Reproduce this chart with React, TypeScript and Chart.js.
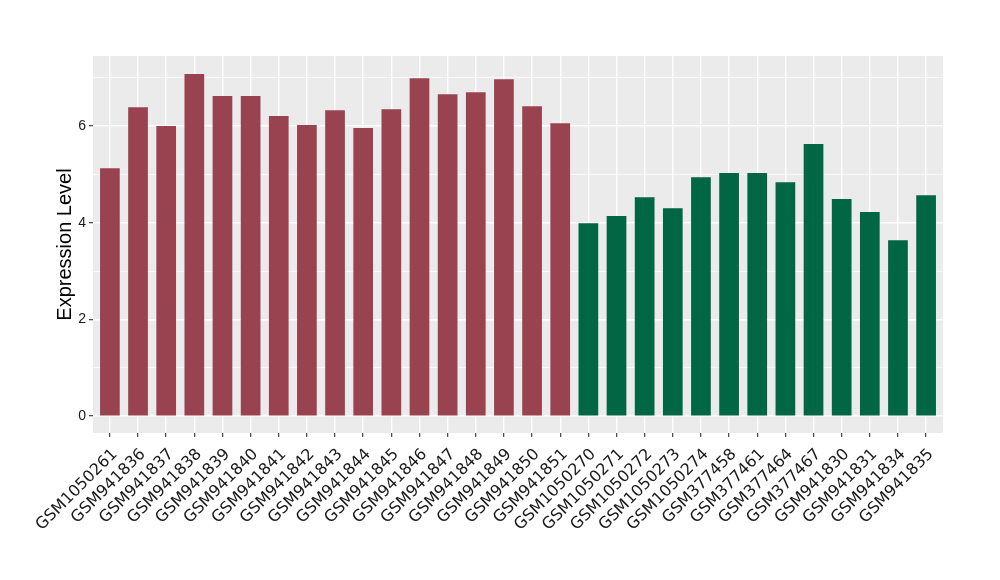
import React, { useEffect, useRef } from "react";
import { Chart, registerables } from "chart.js";

Chart.register(...registerables);

const categories: string[] = [
  "GSM1050261", "GSM941836", "GSM941837", "GSM941838", "GSM941839", "GSM941840",
  "GSM941841", "GSM941842", "GSM941843", "GSM941844", "GSM941845", "GSM941846",
  "GSM941847", "GSM941848", "GSM941849", "GSM941850", "GSM941851",
  "GSM1050270", "GSM1050271", "GSM1050272", "GSM1050273", "GSM1050274",
  "GSM377458", "GSM377461", "GSM377464", "GSM377467",
  "GSM941830", "GSM941831", "GSM941834", "GSM941835",
];

const values: number[] = [
  5.13, 6.39, 6.0, 7.08, 6.62, 6.62, 6.21, 6.02, 6.33, 5.96, 6.35, 6.99,
  6.66, 6.7, 6.97, 6.41, 6.06,
  3.99, 4.14, 4.53, 4.3, 4.94,
  5.03, 5.03, 4.84, 5.63,
  4.49, 4.22, 3.64, 4.57,
];

const groups: number[] = [
  0, 0, 0, 0, 0, 0, 0, 0, 0, 0, 0, 0, 0, 0, 0, 0, 0,
  1, 1, 1, 1, 1, 1, 1, 1, 1, 1, 1, 1, 1,
];

const groupColors: string[] = ["#9A4350", "#006644"];
const yTickValues: number[] = [0, 1, 2, 3, 4, 5, 6, 7];
const yTitle = "Expression Level";

const panelBg = {
  id: "panelBg",
  beforeDraw(chart: any) {
    const { ctx, chartArea } = chart;
    ctx.save();
    ctx.fillStyle = "#EBEBEB";
    ctx.fillRect(chartArea.left, chartArea.top, chartArea.right - chartArea.left, chartArea.bottom - chartArea.top);
    ctx.restore();
  },
};

export default function App() {
  const ref = useRef<HTMLCanvasElement | null>(null);

  useEffect(() => {
    if (!ref.current) return;
    const chart = new Chart(ref.current, {
      type: "bar",
      data: {
        datasets: [
          {
            data: values.map((v, i) => ({ x: i, y: v })),
            backgroundColor: groups.map((g) => groupColors[g]),
            barPercentage: 0.7,
            categoryPercentage: 1,
            borderWidth: 0,
          },
        ],
      },
      options: {
        animation: false,
        responsive: false,
        devicePixelRatio: 1,
        layout: { padding: { top: 56, right: 57, left: 49, bottom: 0 } },
        plugins: { legend: { display: false }, tooltip: { enabled: false } },
        scales: {
          x: {
            type: "linear",
            min: -0.6,
            max: 29.6,
            offset: false,
            afterBuildTicks: (axis: any) => {
              axis.ticks = categories.map((_, i) => ({ value: i }));
            },
            afterFit: (axis: any) => {
              axis.height = 147;
            },
            border: { display: false },
            grid: {
              offset: false,
              color: "#FFFFFF",
              lineWidth: 1.4,
              drawTicks: true,
              tickLength: 4,
              tickColor: "#333333",
              tickWidth: 1.1,
            },
            ticks: {
              autoSkip: false,
              maxRotation: 45,
              minRotation: 45,
              padding: 8,
              labelOffset: 5,
              color: "#1A1A1A",
              font: { family: "'DejaVu Sans'", size: 16 },
              callback: (v: any) => categories[Math.round(Number(v))] ?? "",
            },
          },
          y: {
            min: -0.35,
            max: 7.45,
            afterBuildTicks: (axis: any) => {
              axis.ticks = yTickValues.map((v) => ({ value: v }));
            },
            afterFit: (axis: any) => {
              axis.width = 44;
            },
            border: { display: false },
            grid: {
              color: "#FFFFFF",
              lineWidth: (ctx: any) => (ctx.tick && ctx.tick.value % 2 === 0 ? 1.4 : 0.7),
              drawTicks: true,
              tickLength: 4,
              tickColor: (ctx: any) => (ctx.tick && ctx.tick.value % 2 === 0 ? "#333333" : "rgba(0,0,0,0)"),
              tickWidth: 1.1,
            },
            ticks: {
              autoSkip: false,
              padding: 3,
              color: "#1A1A1A",
              font: { family: "'Liberation Sans'", size: 14 },
              callback: (v: any) => (Number(v) % 2 === 0 ? String(v) : ""),
            },
            title: {
              display: true,
              text: yTitle,
              color: "#000000",
              font: { family: "'Liberation Sans'", size: 20 },
              padding: { top: 4, bottom: 4 },
            },
          },
        },
      },
      plugins: [panelBg],
    });
    return () => chart.destroy();
  }, []);

  return (
    <div style={{ position: "fixed", top: 0, left: 0, width: 1000, height: 580, background: "#fff" }}>
      <canvas ref={ref} width={1000} height={580} />
    </div>
  );
}
